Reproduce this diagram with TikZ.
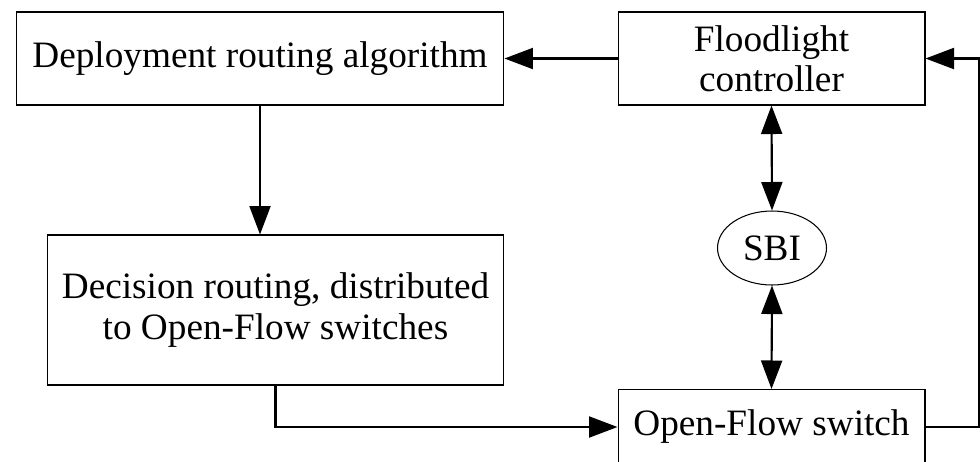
\documentclass[tikz,border=0pt]{standalone}
\usepackage{fontspec}
\setmainfont{Liberation Serif}
\usetikzlibrary{positioning,arrows.meta,shapes.geometric}

\begin{document}
\begin{tikzpicture}[x=0.02cm, y=-0.02cm,
      box/.style={draw, line width=0.6pt, align=center, inner sep=0pt,
                  font=\fontsize{21.2}{23}\selectfont},
      >={Triangle[length=0.57cm, width=0.42cm]},
      arrow/.style={->, line width=1.2pt},
      twoway/.style={<->, line width=1.2pt}
    ]
    \useasboundingbox (0,0) rectangle (980,461);
    \clip (0,0) rectangle (980,461);
    % boxes
    \node[box, minimum width=9.76cm, minimum height=1.86cm] (alg) at (260,58.5) {Deployment routing algorithm};
    \node[box, minimum width=6.14cm, minimum height=1.86cm] (fl) at (771.5,58.5) {Floodlight\\controller};
    \node[box, minimum width=9.14cm, minimum height=3cm] (dec) at (275.5,310) {Decision routing, distributed\\to Open-Flow switches};
    \node[box, ellipse, minimum width=2.18cm, minimum height=1.48cm] (sbi) at (772,248) {SBI};
    \node[box, minimum width=6.14cm, minimum height=1.5cm] (ofs) at (771.5,427) {Open-Flow switch};
    \coordinate (rt) at (979,0);
    % connectors
    \draw[arrow] (fl.west) -- (alg.east);
    \draw[arrow] (alg.south) -- (alg.south |- dec.north);
    \draw[arrow] (dec.south) |- (ofs.west);
    \draw[arrow] (ofs.east) -- (ofs.east -| rt) |- (fl.east);
    \draw[twoway] (fl.south) -- (sbi.north);
    \draw[twoway] (sbi.south) -- (ofs.north);
  \end{tikzpicture}
\end{document}
